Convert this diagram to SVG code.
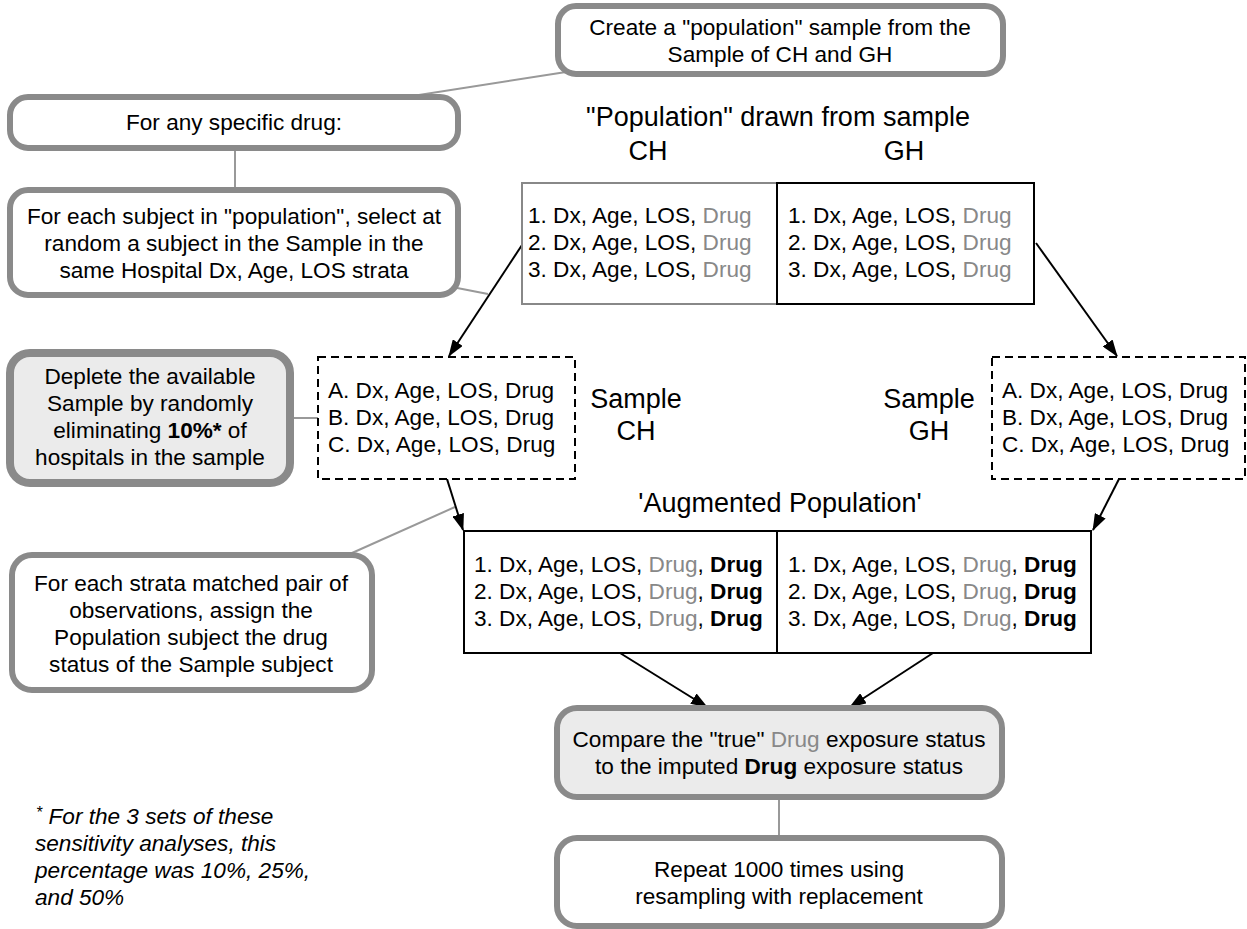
<svg xmlns="http://www.w3.org/2000/svg" width="1247" height="929" viewBox="0 0 1247 929">
<defs>
<style>
text{font-family:"Liberation Sans",Arial,Helvetica,sans-serif;font-size:22.6px;fill:#000}
.c{text-anchor:middle}
.big{font-size:27px}
.g{fill:#888}
.b{font-weight:bold}
.rb{fill:#fff;stroke:#8a8a8a;stroke-width:6}
.rbf{fill:#ebebeb;stroke:#8a8a8a;stroke-width:6}
.tb{fill:#fff;stroke:#000;stroke-width:2}
.dash{fill:#fff;stroke:#000;stroke-width:2;stroke-dasharray:8,5}
.gl{stroke:#999;stroke-width:2;fill:none}
.ar{stroke:#000;stroke-width:2;fill:none;marker-end:url(#ah)}
.it{font-style:italic}
</style>
<marker id="ah" markerWidth="17" markerHeight="12" refX="16" refY="6" orient="auto" markerUnits="userSpaceOnUse">
<path d="M0,0 L17,6 L0,12 Z" fill="#000"/>
</marker>
</defs>
<rect width="1247" height="929" fill="#fff"/>

<g id="connectors">
<line class="gl" x1="566" y1="72" x2="406" y2="97"/>
<line class="gl" x1="235" y1="148" x2="235" y2="190"/>
<line class="gl" x1="452" y1="287" x2="488" y2="294"/>
<line class="gl" x1="290" y1="418" x2="318" y2="418"/>
<line class="gl" x1="352" y1="553" x2="455" y2="507"/>
<line class="gl" x1="779" y1="797" x2="779" y2="838"/>
<line class="ar" x1="522" y1="245" x2="449" y2="356"/>
<line class="ar" x1="1036" y1="243" x2="1117" y2="356"/>
<line class="ar" x1="447" y1="479" x2="463" y2="530"/>
<line class="ar" x1="1119" y1="479" x2="1093" y2="530"/>
<line class="ar" x1="620" y1="653" x2="707" y2="707"/>
<line class="ar" x1="933" y1="653" x2="850" y2="707"/>
</g>

<g id="create">
<rect class="rb" x="558" y="6" width="445" height="68" rx="18"/>
<text class="c" x="780" y="35">Create a "population" sample from the</text>
<text class="c" x="780" y="62">Sample of CH and GH</text>
</g>

<g id="anydrug">
<rect class="rb" x="10" y="97" width="448" height="51" rx="18"/>
<text class="c" x="234" y="130">For any specific drug:</text>
</g>

<g id="eachsubject">
<rect class="rb" x="10" y="190" width="448" height="105" rx="18"/>
<text class="c" x="234" y="224">For each subject in "population", select at</text>
<text class="c" x="234" y="251">random a subject in the Sample in the</text>
<text class="c" x="234" y="278">same Hospital Dx, Age, LOS strata</text>
</g>

<g id="poptitle">
<text class="c big" x="778" y="126">"Population" drawn from sample</text>
<text class="c big" x="648" y="160">CH</text>
<text class="c big" x="904" y="160">GH</text>
</g>

<g id="popch">
<rect x="522" y="183" width="255" height="121" fill="#fff" stroke="#888" stroke-width="2"/>
<text x="528" y="223">1. Dx, Age, LOS, <tspan class="g">Drug</tspan></text>
<text x="528" y="250">2. Dx, Age, LOS, <tspan class="g">Drug</tspan></text>
<text x="528" y="277">3. Dx, Age, LOS, <tspan class="g">Drug</tspan></text>
</g>

<g id="popgh">
<rect class="tb" x="777" y="183" width="257" height="121"/>
<text x="788" y="223">1. Dx, Age, LOS, <tspan class="g">Drug</tspan></text>
<text x="788" y="250">2. Dx, Age, LOS, <tspan class="g">Drug</tspan></text>
<text x="788" y="277">3. Dx, Age, LOS, <tspan class="g">Drug</tspan></text>
</g>

<g id="deplete">
<rect x="10" y="353" width="280" height="130" rx="20" fill="#ebebeb" stroke="#8a8a8a" stroke-width="8"/>
<text class="c" x="150" y="384">Deplete the available</text>
<text class="c" x="150" y="411">Sample by randomly</text>
<text class="c" x="150" y="438">eliminating <tspan class="b">10%*</tspan> of</text>
<text class="c" x="150" y="465">hospitals in the sample</text>
</g>

<g id="samplech">
<rect class="dash" x="318" y="357" width="257" height="122"/>
<text x="328" y="398">A. Dx, Age, LOS, Drug</text>
<text x="328" y="425">B. Dx, Age, LOS, Drug</text>
<text x="328" y="452">C. Dx, Age, LOS, Drug</text>
<text class="c big" x="636" y="408">Sample</text>
<text class="c big" x="636" y="440">CH</text>
</g>

<g id="samplegh">
<rect class="dash" x="992" y="357" width="253" height="122"/>
<text x="1002" y="398">A. Dx, Age, LOS, Drug</text>
<text x="1002" y="425">B. Dx, Age, LOS, Drug</text>
<text x="1002" y="452">C. Dx, Age, LOS, Drug</text>
<text class="c big" x="929" y="408">Sample</text>
<text class="c big" x="929" y="440">GH</text>
</g>

<g id="augtitle">
<text class="c big" x="780" y="512">'Augmented Population'</text>
</g>

<g id="augch">
<rect class="tb" x="464" y="531" width="313" height="122"/>
<text x="474" y="572">1. Dx, Age, LOS, <tspan class="g">Drug</tspan>, <tspan class="b">Drug</tspan></text>
<text x="474" y="599">2. Dx, Age, LOS, <tspan class="g">Drug</tspan>, <tspan class="b">Drug</tspan></text>
<text x="474" y="626">3. Dx, Age, LOS, <tspan class="g">Drug</tspan>, <tspan class="b">Drug</tspan></text>
</g>

<g id="auggh">
<rect class="tb" x="777" y="531" width="314" height="122"/>
<text x="788" y="572">1. Dx, Age, LOS, <tspan class="g">Drug</tspan>, <tspan class="b">Drug</tspan></text>
<text x="788" y="599">2. Dx, Age, LOS, <tspan class="g">Drug</tspan>, <tspan class="b">Drug</tspan></text>
<text x="788" y="626">3. Dx, Age, LOS, <tspan class="g">Drug</tspan>, <tspan class="b">Drug</tspan></text>
</g>

<g id="strata">
<rect class="rb" x="12" y="555" width="360" height="135" rx="20"/>
<text class="c" x="191" y="591">For each strata matched pair of</text>
<text class="c" x="191" y="618">observations, assign the</text>
<text class="c" x="191" y="645">Population subject the drug</text>
<text class="c" x="191" y="672">status of the Sample subject</text>
</g>

<g id="compare">
<rect class="rbf" x="557" y="708" width="445" height="89" rx="20"/>
<text class="c" x="779" y="747">Compare the "true" <tspan class="g">Drug</tspan> exposure status</text>
<text class="c" x="779" y="774">to the imputed <tspan class="b">Drug</tspan> exposure status</text>
</g>

<g id="repeat">
<rect class="rb" x="557" y="838" width="445" height="88" rx="20"/>
<text class="c" x="779" y="877">Repeat 1000 times using</text>
<text class="c" x="779" y="904">resampling with replacement</text>
</g>

<g id="footnote">
<text class="it" x="36" y="824"><tspan font-size="16" dy="-6">*</tspan><tspan dy="6"> For the 3 sets of these</tspan></text>
<text class="it" x="35" y="851">sensitivity analyses, this</text>
<text class="it" x="35" y="878">percentage was 10%, 25%,</text>
<text class="it" x="35" y="905">and 50%</text>
</g>
</svg>
